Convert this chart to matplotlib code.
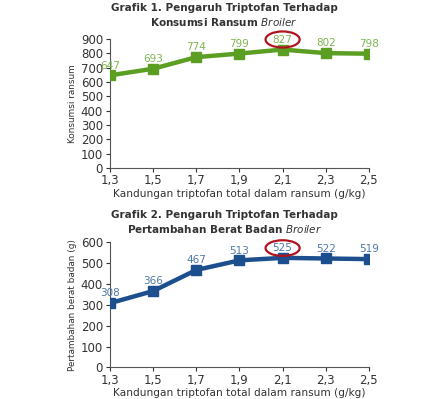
import matplotlib
matplotlib.use('Agg')
import matplotlib.pyplot as plt
from matplotlib.patches import Ellipse

# data
dosis = [1.3, 1.5, 1.7, 1.9, 2.1, 2.3, 2.5]
dosis_lbl = ['1,3', '1,5', '1,7', '1,9', '2,1', '2,3', '2,5']
konsumsi = [647, 693, 774, 799, 827, 802, 798]
pbb = [308, 366, 467, 513, 525, 522, 519]

fig = plt.figure(figsize=(4.48, 3.99), dpi=100)
fig.patch.set_facecolor('white')

def panel(rect, y, ymax, color, lblcolor, ylabel, t1, t2a, ylab_x, title_y):
    ax = fig.add_axes(rect)
    ax.plot(dosis, y, color=color, lw=3.2, marker='s', ms=6.5, zorder=3)
    ax.set_xlim(1.3, 2.5)
    ax.set_ylim(0, ymax)
    ax.set_xticks(dosis)
    ax.set_xticklabels(dosis_lbl)
    ax.set_yticks(range(0, ymax + 1, 100))
    for s in ['top', 'right']:
        ax.spines[s].set_visible(False)
    for s in ['left', 'bottom']:
        ax.spines[s].set_color('#555555')
        ax.spines[s].set_linewidth(0.8)
    ax.tick_params(labelsize=8.5, colors='#333333', length=3, width=0.8, pad=2)
    ax.tick_params(axis='x', pad=1.5)
    for xv, yv in zip(dosis, y):
        ax.annotate(str(yv), (xv, yv), xytext=(0, 7), textcoords='offset points',
                    ha='center', va='center', fontsize=7.5, color=lblcolor,
                    family='DejaVu Sans', zorder=4)
    ax.set_xlabel('Kandungan triptofan total dalam ransum (g/kg)', fontsize=7.6,
                  color='#333333', labelpad=1)
    fig.text(ylab_x, rect[1] + rect[3] / 2, ylabel, rotation=90, ha='center',
             va='center', fontsize=6.4, color='#333333',
             family=['Liberation Sans Narrow', 'DejaVu Sans'])
    # ring round the peak label
    i = 4
    ring = Ellipse((dosis[i], y[i] + ymax * 0.078), 0.158, ymax * 0.125,
                   fill=False, ec='#b0121e', lw=1.6, zorder=5, clip_on=False)
    ax.add_patch(ring)
    fig.text(0.5, title_y, t1, ha='center', va='center', fontsize=7.5,
             fontweight='bold', color='#333333')
    fig.text(0.5, title_y - 0.035, t2a + r' $\bf\it{Broiler}$', ha='center',
             va='center', fontsize=7.5, fontweight='bold', color='#333333')
    return ax

panel([0.2455, 0.579, 0.578, 0.323], konsumsi, 900, '#5c9e22', '#7fb551',
      'Konsumsi ransum', 'Grafik 1. Pengaruh Triptofan Terhadap',
      'Konsumsi Ransum', 0.162, 0.980)
panel([0.2455, 0.079, 0.578, 0.314], pbb, 600, '#1d4f8f', '#4f78a8',
      'Pertambahan berat badan (g)', 'Grafik 2. Pengaruh Triptofan Terhadap',
      'Pertambahan Berat Badan', 0.162, 0.462)

fig.savefig('out.png', dpi=100)
